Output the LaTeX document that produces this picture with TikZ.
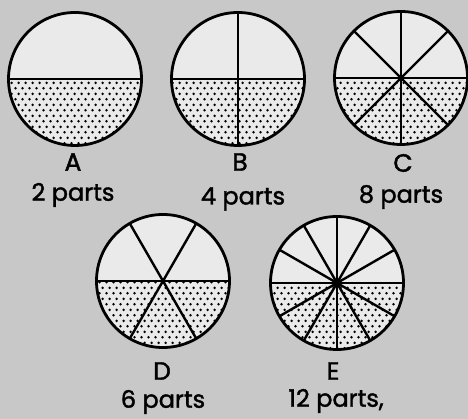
\documentclass[tikz,border=0pt]{standalone}
\usepackage{fontspec}
\setmainfont{Poppins}[FakeBold=1.6,AutoFakeBold=1.6]
\usetikzlibrary{patterns.meta}
\definecolor{PageGray}{RGB}{200,200,200}
\definecolor{DiscWhite}{RGB}{234,234,234}

\tikzdeclarepattern{
  name=halftone, type=uncolored,
  bottom left={(0pt,0pt)}, top right={(7pt,11.4pt)},
  tile size={(7pt,11.4pt)},
  code={\fill (1.75pt,2.85pt) circle (1.5pt);
        \fill (5.25pt,8.55pt) circle (1.5pt);}}

\tikzset{
  rim/.style={line width=2.8pt},
  spoke/.style={line width=2.4pt},
  letter/.style={font=\bfseries\fontsize{25}{28}\selectfont},
  count/.style={font=\bfseries\fontsize{24}{28}\selectfont}
}

% disc at #1 cut into #2 equal parts, lower half dotted
\newcommand\partdisc[2]{%
  \fill[DiscWhite] (#1) circle (66.5);
  \path[pattern={halftone}] (#1) ++(66.5,0)
    arc[start angle=0,end angle=-180,radius=66.5] -- cycle;
  \draw[spoke] (#1) ++(-66.5,0) -- ++(133,0);
  \foreach \k in {1,...,#2}
    \draw[spoke] (#1) -- ++({\k*360/#2}:66.5);
  \draw[rim] (#1) circle (66.5);
}

\begin{document}
\begin{tikzpicture}[x=1pt,y=1pt]
  \fill[PageGray] (0,0) rectangle (468,419);
  \useasboundingbox (0,0) rectangle (468,419);

  \coordinate (cA) at (75,340);
  \coordinate (cB) at (238,340);
  \coordinate (cC) at (401,341);
  \coordinate (cD) at (163,138);
  \coordinate (cE) at (337,136);

  \partdisc{cA}{2}
  \partdisc{cB}{4}
  \partdisc{cC}{8}
  \partdisc{cD}{6}
  \partdisc{cE}{12}

  \node[letter] (nA) at (73,257) {A};
  \node[count] (pA) at (73,224) {2 parts};
  \node[letter] (nB) at (240,257) {B};
  \node[count] (pB) at (243,220) {4 parts};
  \node[letter] (nC) at (403,256) {C};
  \node[count] (pC) at (401,222) {8 parts};
  \node[letter] (nD) at (162,48) {D};
  \node[count] (pD) at (163,17) {6 parts};
  \node[letter] (nE) at (333,48) {E};
  \node[count] (pE) at (336,18) {12 parts,};
\end{tikzpicture}
\end{document}
